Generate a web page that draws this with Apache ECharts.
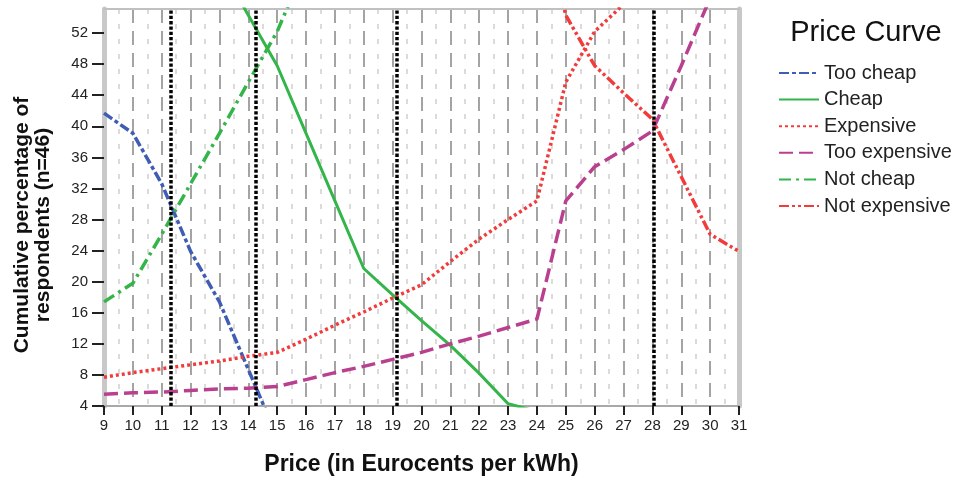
<!DOCTYPE html>
<html>
<head>
<meta charset="utf-8">
<script src="https://cdn.jsdelivr.net/npm/echarts@6/dist/echarts.min.js"></script>
<style>
html,body{margin:0;padding:0;background:#fff;}
#chart{width:953px;height:481px;}
</style>
</head>
<body>
<div id="chart"></div>
<script>
const prices = [9,10,11,12,13,14,15,16,17,18,19,20,21,22,23,24,25,26,27,28,29,30,31];
const yTicks = [4,8,12,16,20,24,28,32,36,40,44,48,52];
const seriesNames = ['Too cheap','Cheap','Expensive','Too expensive','Not cheap','Not expensive'];
const tooCheap     = [41.7,39.1,32.6,23.9,17.4,8.7,0,0,0,0,0,0,0,0,0,0,0,0,0,0,0,0,0];
const cheap        = [82.6,80.2,73.9,67.4,60.9,54.3,47.8,39.1,30.4,21.7,18.3,15.0,11.8,8.2,4.3,3.3,2.2,2.2,0,0,0,0,0];
const expensive    = [7.7,8.3,8.8,9.3,9.8,10.4,10.9,12.6,14.4,16.1,17.9,19.6,22.6,25.5,28.0,30.4,45.7,52.2,55.7,59.1,66.5,73.9,76.1];
const tooExpensive = [5.5,5.7,5.8,6.0,6.2,6.3,6.5,7.4,8.3,9.1,10.0,10.9,12.0,13.0,14.1,15.2,30.4,34.8,37.0,39.4,47.8,56.5,63.0];
const notCheap     = [17.4,19.8,26.1,32.6,39.1,45.7,52.2,60.9,69.6,78.3,81.7,85.0,88.2,91.8,95.7,96.7,97.8,97.8,100,100,100,100,100];
const notExpensive = [92.3,91.7,91.2,90.7,90.2,89.6,89.1,87.4,85.6,83.9,82.1,80.4,77.4,74.5,72.0,69.6,54.3,47.8,44.3,40.9,33.5,26.1,23.9];
const markPrices = [11.3, 14.27, 19.14, 28.05];

const FONT = 'Liberation Sans, Arial, sans-serif';
const values = [tooCheap, cheap, expensive, tooExpensive, notCheap, notExpensive];
const colors = ['#3f5db5','#33b54a','#f23c3c','#b9408f','#33b54a','#f23c3c'];
const dashes = [[10,3,4,3], 'solid', [3,3], [14,6], [12,5,3,5], [10,3,3,3,3,3]];
const widths = [3.5, 3, 3.5, 3.5, 3.5, 3.5];

const series = values.map((arr, i) => {
  const s = {
    name: seriesNames[i],
    type: 'line',
    symbol: 'none',
    legendIcon: 'none',
    clip: true,
    z: 3,
    color: colors[i],
    lineStyle: { color: colors[i], width: widths[i], type: dashes[i] },
    data: prices.map((p, j) => [p, arr[j]])
  };
  if (i === 0) {
    s.markLine = {
      silent: true,
      symbol: ['none','none'],
      label: { show: false },
      lineStyle: { color: '#000', width: 3.5, type: [3.3, 2] },
      data: markPrices.map(v => ({ xAxis: v }))
    };
  }
  return s;
});

const chart = echarts.init(document.getElementById('chart'));
chart.setOption({
  animation: false,
  backgroundColor: '#fff',
  textStyle: { fontFamily: FONT },
  grid: { left: 104, right: 214, top: 9, bottom: 74 },
  xAxis: [{
    type: 'value', min: 9, max: 31, interval: 1,
    name: 'Price (in Eurocents per kWh)',
    nameLocation: 'middle', nameGap: 47,
    nameTextStyle: { fontFamily: FONT, fontSize: 23, fontWeight: 'bold', color: '#111' },
    axisLine: { lineStyle: { color: '#a8a8a8', width: 2 } },
    axisTick: { length: 9, lineStyle: { color: '#222', width: 2 } },
    axisLabel: { fontFamily: FONT, fontSize: 15, color: '#222', margin: 12 },
    splitLine: { show: true, lineStyle: { color: '#a4a4a4', width: 2, type: [14, 8] } },
    minorTick: { show: false, splitNumber: 2 },
    minorSplitLine: { show: true, lineStyle: { color: '#d0d0d0', width: 1.5, type: [5, 10] } }
  }, {
    type: 'value', min: 9, max: 31, position: 'top',
    axisLine: { show: true, lineStyle: { color: '#c0c0c0', width: 2 } },
    axisTick: { show: false }, axisLabel: { show: false }, splitLine: { show: false }
  }],
  yAxis: [{
    type: 'value', min: 4, max: 55.1, interval: 4,
    axisLine: { show: true, lineStyle: { color: '#c8c8c8', width: 5 } },
    axisTick: { show: true, length: 12, customValues: yTicks, lineStyle: { color: '#222', width: 2 } },
    axisLabel: { fontFamily: FONT, fontSize: 15, color: '#222', margin: 16, customValues: yTicks },
    splitLine: { show: false }
  }, {
    type: 'value', min: 4, max: 55.1, position: 'right',
    axisLine: { show: true, lineStyle: { color: '#c8c8c8', width: 5 } },
    axisTick: { show: false }, axisLabel: { show: false }, splitLine: { show: false }
  }],
  legend: {
    data: seriesNames,
    orient: 'vertical',
    left: 778, top: 63, padding: 0,
    itemWidth: 40, itemHeight: 19, itemGap: 6.6, itemTextGap: 5,
    textStyle: { fontFamily: FONT, fontSize: 20, color: '#222', lineHeight: 19 },
    itemStyle: { opacity: 0 },
    lineStyle: { width: 2 }
  },
  graphic: [{
    type: 'text', x: 866, y: 33,
    style: { text: 'Price Curve', font: '29px ' + FONT, fill: '#111', align: 'center', verticalAlign: 'middle' }
  }, {
    type: 'text', x: 33, y: 225, rotation: Math.PI / 2,
    style: { text: 'Cumulative percentage of\nrespondents (n=46)', font: 'bold 21px ' + FONT, fill: '#111',
             align: 'center', verticalAlign: 'middle', lineHeight: 21 }
  }],
  series: series
});
</script>
</body>
</html>
